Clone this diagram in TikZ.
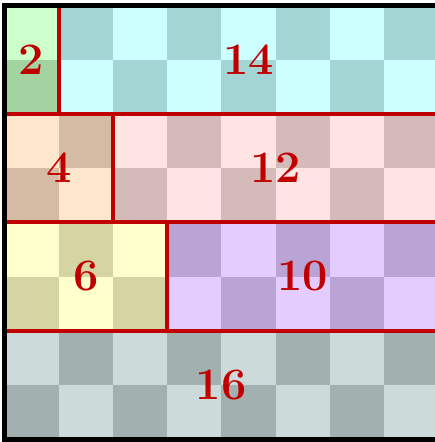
\documentclass[tikz,border=0pt]{standalone}
\definecolor{gL}{HTML}{CCFFCC}\definecolor{gD}{HTML}{A3D3A0}
\definecolor{cL}{HTML}{CCFFFF}\definecolor{cD}{HTML}{A3D5D5}
\definecolor{oL}{HTML}{FFE5CC}\definecolor{oD}{HTML}{D5BBA3}
\definecolor{pL}{HTML}{FFE4E4}\definecolor{pD}{HTML}{D5BABA}
\definecolor{yL}{HTML}{FFFFCC}\definecolor{yD}{HTML}{D5D5A3}
\definecolor{vL}{HTML}{E5CCFF}\definecolor{vD}{HTML}{BAA3D5}
\definecolor{kL}{HTML}{CCDADA}\definecolor{kD}{HTML}{A3B0B0}
\definecolor{lab}{HTML}{C00000}
\newcommand\cellsz{54.2}
\tikzset{blockline/.style={draw=lab,line width=4pt},
  numlab/.style={text=lab,font=\fontsize{45}{45}\selectfont\bfseries,inner sep=0pt}}
\begin{document}
\begin{tikzpicture}[x=1pt,y=-1pt]
\useasboundingbox (0,0) rectangle (435,442);
\foreach \cc in {0,...,7}{\foreach \rr in {0,...,7}{%
  \pgfmathtruncatemacro\pty{mod(\cc+\rr,2)}%
  \ifnum\rr<2 \ifnum\cc<1 \def\base{g}\else\def\base{c}\fi\fi
  \ifnum\rr>1 \ifnum\rr<4 \ifnum\cc<2 \def\base{o}\else\def\base{p}\fi\fi\fi
  \ifnum\rr>3 \ifnum\rr<6 \ifnum\cc<3 \def\base{y}\else\def\base{v}\fi\fi\fi
  \ifnum\rr>5 \def\base{k}\fi
  \ifnum\pty=0 \edef\fc{\base L}\else\edef\fc{\base D}\fi
  \fill[\fc] (4.5+\cc*\cellsz,5.5+\rr*\cellsz) rectangle ++(\cellsz,\cellsz);
}}
% block outlines
\draw[blockline] (4.5,5.5) rectangle (4.5+1*\cellsz,5.5+2*\cellsz);
\draw[blockline] (4.5+1*\cellsz,5.5) rectangle (4.5+8*\cellsz,5.5+2*\cellsz);
\draw[blockline] (4.5,5.5+2*\cellsz) rectangle (4.5+2*\cellsz,5.5+4*\cellsz);
\draw[blockline] (4.5+2*\cellsz,5.5+2*\cellsz) rectangle (4.5+8*\cellsz,5.5+4*\cellsz);
\draw[blockline] (4.5,5.5+4*\cellsz) rectangle (4.5+3*\cellsz,5.5+6*\cellsz);
\draw[blockline] (4.5+3*\cellsz,5.5+4*\cellsz) rectangle (4.5+8*\cellsz,5.5+6*\cellsz);
% labels
\node[numlab] (n2)  at (4.5+0.5*\cellsz,5.5+1*\cellsz) {2};
\node[numlab] (n14) at (4.5+4.5*\cellsz,5.5+1*\cellsz) {14};
\node[numlab] (n4)  at (4.5+1*\cellsz,5.5+3*\cellsz) {4};
\node[numlab] (n12) at (4.5+5*\cellsz,5.5+3*\cellsz) {12};
\node[numlab] (n6)  at (4.5+1.5*\cellsz,5.5+5*\cellsz) {6};
\node[numlab] (n10) at (4.5+5.5*\cellsz,5.5+5*\cellsz) {10};
\node[numlab] (n16) at (4.5+4*\cellsz,5.5+7*\cellsz) {16};
% outer border
\draw[line width=5pt,black] (4.5,5.5) rectangle (4.5+8*\cellsz,5.5+8*\cellsz);
\end{tikzpicture}
\end{document}
